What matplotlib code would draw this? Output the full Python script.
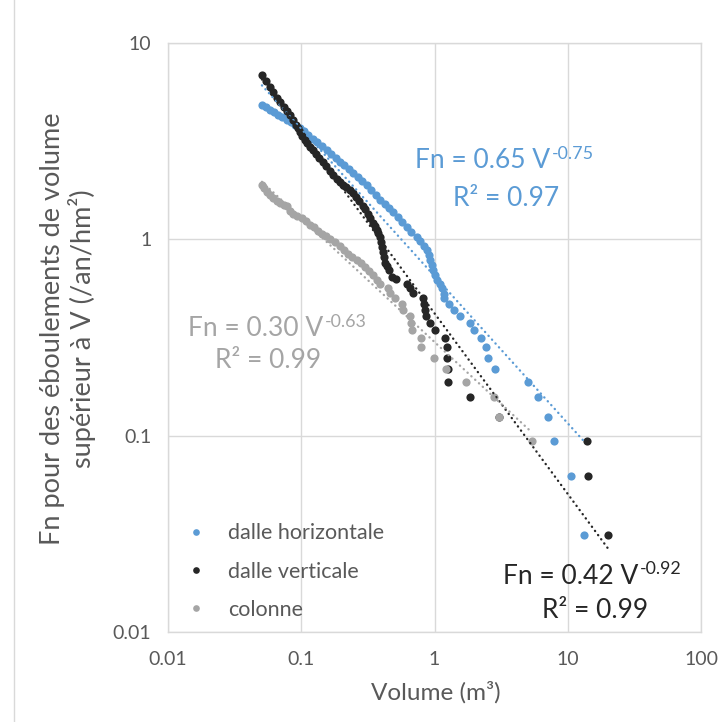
import matplotlib
matplotlib.use("Agg")
import matplotlib.pyplot as plt
from matplotlib.lines import Line2D
import numpy as np

plt.rcParams['font.family'] = ['Lato', 'DejaVu Sans']

# ---------------- data ----------------
horiz_V = [0.0507, 0.0543, 0.0582, 0.0624, 0.0669, 0.0717, 0.0781, 0.0837, 0.0897, 0.0978,
           0.1048, 0.1123, 0.1224, 0.1312, 0.1430, 0.1559, 0.1671, 0.1821, 0.1952, 0.2092,
           0.2280, 0.2443, 0.2664, 0.2855, 0.3112, 0.3334, 0.3635, 0.3895, 0.4246, 0.4550,
           0.4875, 0.5314, 0.5694, 0.6208, 0.6653, 0.7379, 0.7771, 0.8327, 0.8770, 0.9078,
           0.9237, 0.9561, 0.9728, 1.007, 1.042, 1.098, 1.136, 1.176,
           1.176, 1.282, 1.398, 1.550, 1.843, 1.975, 2.229, 2.430, 2.515, 2.839,
           5.02, 5.97, 7.09, 7.87, 10.55, 13.21]
horiz_Fn = [4.85, 4.74, 4.57, 4.47, 4.31, 4.21, 4.07, 3.97, 3.84, 3.70,
            3.57, 3.41, 3.25, 3.14, 3.00, 2.86, 2.73, 2.60, 2.48, 2.40,
            2.29, 2.18, 2.08, 1.99, 1.90, 1.79, 1.69, 1.59, 1.52, 1.45,
            1.38, 1.30, 1.23, 1.16, 1.09, 1.03, 0.984, 0.928, 0.885, 0.835,
            0.787, 0.742, 0.700, 0.660, 0.623, 0.594, 0.567, 0.528,
            0.501, 0.470, 0.438, 0.407, 0.376, 0.344, 0.313, 0.282, 0.250, 0.219,
            0.188, 0.157, 0.125, 0.0939, 0.0626, 0.0313]

vert_V = [0.0507, 0.0543, 0.0582, 0.0613, 0.0657, 0.0692, 0.0742, 0.0781, 0.0823, 0.0867,
          0.0913, 0.0945, 0.0978, 0.1012, 0.1066, 0.1104, 0.1162, 0.1224, 0.1290, 0.1358,
          0.1455, 0.1532, 0.1642, 0.1729, 0.1853, 0.1952, 0.2055, 0.2165, 0.2319, 0.2443,
          0.2573, 0.2710, 0.2904, 0.3006, 0.3165, 0.3277, 0.3451, 0.3573, 0.3698, 0.3763,
          0.3895, 0.3963, 0.4031, 0.4102, 0.4173, 0.4246, 0.4396, 0.4550, 0.4790, 0.5133,
          0.6208, 0.6540, 0.6887, 0.8185, 0.8327, 0.8472, 0.8620, 0.9237, 1.007, 1.197,
          1.239, 1.239, 1.261, 1.261, 1.843, 3.04, 13.9, 14.15, 20.0]
vert_Fn = [6.90, 6.43, 5.99, 5.65, 5.26, 5.02, 4.74, 4.52, 4.31, 4.07,
           3.84, 3.70, 3.53, 3.37, 3.22, 3.10, 2.96, 2.86, 2.73, 2.60,
           2.48, 2.37, 2.24, 2.13, 2.04, 1.97, 1.90, 1.85, 1.79, 1.73,
           1.65, 1.57, 1.48, 1.42, 1.35, 1.29, 1.215, 1.17, 1.12, 1.08,
           1.03, 0.972, 0.917, 0.865, 0.815, 0.760, 0.734, 0.700, 0.645, 0.626,
           0.595, 0.563, 0.532, 0.501, 0.470, 0.438, 0.407, 0.376, 0.344, 0.313,
           0.282, 0.250, 0.219, 0.188, 0.157, 0.125, 0.0939, 0.0626, 0.0313]

col_V = [0.0507, 0.0525, 0.0553, 0.0582, 0.0613, 0.0657, 0.0692, 0.0742, 0.0781, 0.0823,
         0.0867, 0.0928, 0.1012, 0.1085, 0.1162, 0.1246, 0.1335, 0.1430, 0.1532, 0.1642,
         0.1790, 0.1952, 0.2092, 0.2240, 0.2401, 0.2618, 0.2805, 0.3006, 0.3221, 0.3451,
         0.3698, 0.3895, 0.447, 0.463, 0.505, 0.569, 0.579, 0.654, 0.665, 0.677,
         0.791, 0.791, 0.990, 1.218, 1.72, 2.79, 3.04, 5.38]
col_Fn = [1.90, 1.83, 1.75, 1.69, 1.63, 1.57, 1.54, 1.50, 1.47, 1.40,
          1.35, 1.32, 1.29, 1.24, 1.19, 1.15, 1.106, 1.068, 1.043, 1.007,
          0.972, 0.928, 0.885, 0.845, 0.815, 0.787, 0.760, 0.725, 0.692, 0.660,
          0.623, 0.595, 0.563, 0.532, 0.501, 0.470, 0.438, 0.407, 0.376, 0.344,
          0.313, 0.282, 0.250, 0.219, 0.188, 0.157, 0.125, 0.0939]

series_names = ["dalle horizontale", "dalle verticale", "colonne"]
fit_coef = [0.65, 0.42, 0.30]
fit_exp = [-0.75, -0.92, -0.63]
fit_r2 = [0.97, 0.99, 0.99]

x_ticks = [0.01, 0.1, 1, 10, 100]
x_ticklabels = ["0.01", "0.1", "1", "10", "100"]
y_ticks = [0.01, 0.1, 1, 10]
y_ticklabels = ["0.01", "0.1", "1", "10"]

colors = ["#5B9BD5", "#262626", "#A5A5A5"]
text_gray = "#595959"
grid_col = "#D9D9D9"

# ---------------- figure ----------------
W, H = 720, 722
fig = plt.figure(figsize=(W / 100, H / 100), dpi=100)
ax = fig.add_axes([168 / W, 1 - 632 / H, (701 - 168) / W, (632 - 43) / H])
ax.set_xscale('log')
ax.set_yscale('log')
ax.set_xlim(0.01, 100)
ax.set_ylim(0.01, 10)

data = [(horiz_V, horiz_Fn), (vert_V, vert_Fn), (col_V, col_Fn)]
for (v, f), c, name in zip(data, colors, series_names):
    ax.plot(v, f, linestyle='none', marker='o', ms=5.9, mec='none', mfc=c, label=name, zorder=3)

for (v, f), c, a, b in zip(data, colors, fit_coef, fit_exp):
    vv = np.array([min(v), max(v)])
    ax.plot(vv, a * vv ** b, color=c, lw=1.7, linestyle=(0, (0.1, 2.1)),
            dash_capstyle='round', zorder=4)

ax.set_xticks(x_ticks)
ax.set_xticklabels(x_ticklabels)
ax.set_yticks(y_ticks)
ax.set_yticklabels(y_ticklabels)
ax.minorticks_off()
ax.tick_params(length=0, labelsize=14, labelcolor=text_gray)
ax.tick_params(axis='y', pad=12)
ax.tick_params(axis='x', pad=14)
ax.grid(True, color=grid_col, lw=1)
for s in ax.spines.values():
    s.set_color(grid_col)
    s.set_linewidth(1)

# legend
leg_fs = 15.5
handles = [Line2D([], [], linestyle='none', marker='o', ms=4.8, mec='none', mfc=c) for c in colors]
leg = ax.legend(handles, series_names, loc='upper left', bbox_to_anchor=(0.016, 0.199),
                frameon=False, fontsize=leg_fs, labelcolor=text_gray, handlelength=1.0,
                handletextpad=0.99, labelspacing=0.85, borderaxespad=0, borderpad=0.4)


# annotations
def fx(px):
    return px / W


def fy(py):
    return 1 - py / H


fs = 19


def equation(x_left, y_mid, coef, expo, color):
    t = fig.text(fx(x_left), fy(y_mid), "Fn = %.2f V" % coef, color=color,
                 fontsize=fs, ha='left', va='center')
    ax.annotate("%.2f" % expo, xy=(1, 1), xycoords=t, xytext=(1, 2), textcoords='offset points',
                ha='left', va='top', fontsize=fs * 0.68, color=color, annotation_clip=False)


equation(415, 161, fit_coef[0], fit_exp[0], colors[0])
fig.text(fx(506), fy(198), "R² = %.2f" % fit_r2[0], color=colors[0], fontsize=fs, ha='center', va='center')

equation(188, 329, fit_coef[2], fit_exp[2], colors[2])
fig.text(fx(268), fy(361), "R² = %.2f" % fit_r2[2], color=colors[2], fontsize=fs, ha='center', va='center')

equation(503, 576, fit_coef[1], fit_exp[1], colors[1])
fig.text(fx(595), fy(610), "R² = %.2f" % fit_r2[1], color=colors[1], fontsize=fs, ha='center', va='center')

# axis titles
fig.text(fx(436), fy(692), "Volume (m³)", color=text_gray, fontsize=17.5, ha='center', va='center')
fig.text(fx(68), fy(329), "Fn pour des éboulements de volume\nsupérieur à V (/an/hm²)", color=text_gray,
         fontsize=19.5, ha='center', va='center', rotation=90, linespacing=1.15, multialignment='center')

# chart border on the left
fig.add_artist(Line2D([fx(14), fx(14)], [0, 1], color=grid_col, lw=1))

fig.savefig("out.png", dpi=100)
